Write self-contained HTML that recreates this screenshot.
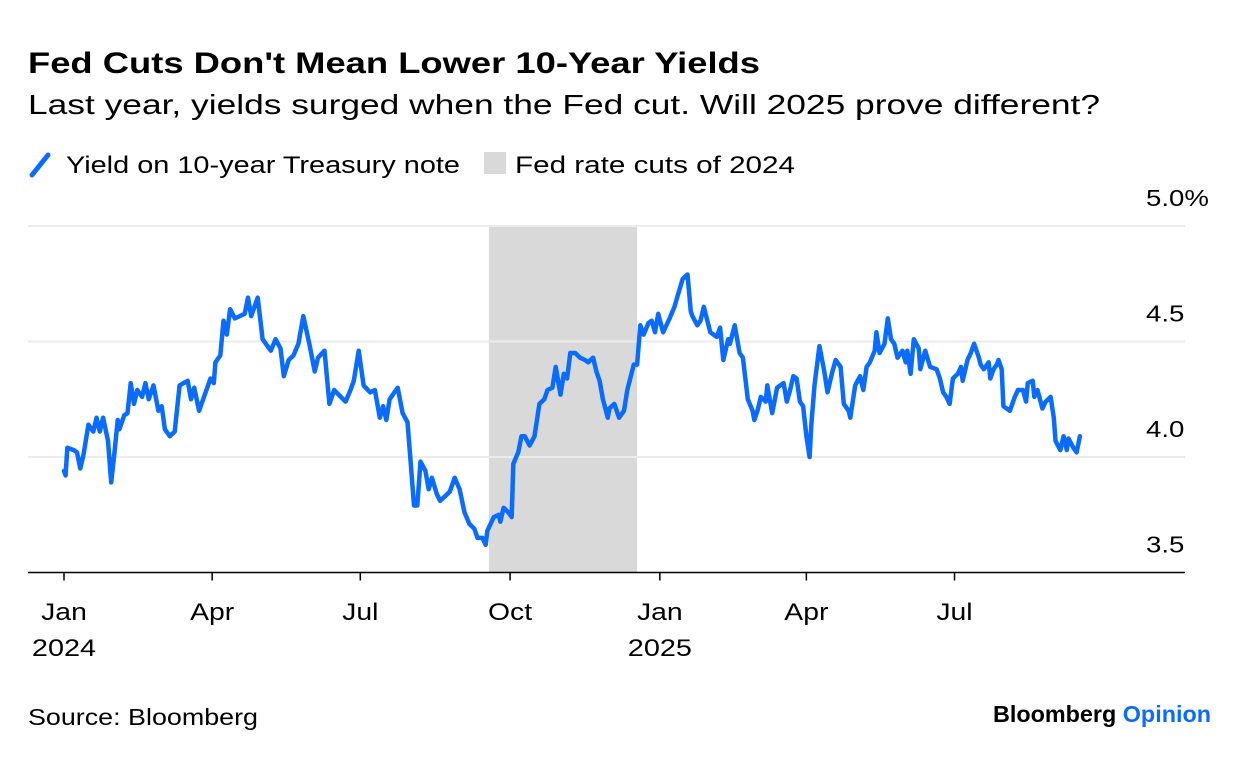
<!DOCTYPE html>
<html><head><meta charset="utf-8"><style>
body{margin:0;background:#fff;font-family:"Liberation Sans",sans-serif;color:#000}
svg{display:block}
</style></head><body>
<svg width="1240" height="758" viewBox="0 0 1240 758" xmlns="http://www.w3.org/2000/svg">
<text x="28" y="73" font-size="30" font-weight="bold" textLength="732" lengthAdjust="spacingAndGlyphs">Fed Cuts Don't Mean Lower 10-Year Yields</text>
<text x="28" y="114" font-size="28" textLength="1072" lengthAdjust="spacingAndGlyphs">Last year, yields surged when the Fed cut. Will 2025 prove different?</text>
<g>
<line x1="32" y1="175" x2="48" y2="155" stroke="#0a6cff" stroke-width="5" stroke-linecap="round"/>
<text x="66" y="173" font-size="24" textLength="394" lengthAdjust="spacingAndGlyphs">Yield on 10-year Treasury note</text>
<rect x="484" y="152" width="22" height="22" fill="#d9d9d9"/>
<text x="515" y="173" font-size="24" textLength="280" lengthAdjust="spacingAndGlyphs">Fed rate cuts of 2024</text>
</g>
<g id="plot"></g>
<text x="28" y="725" font-size="23" textLength="230" lengthAdjust="spacingAndGlyphs">Source: Bloomberg</text>
<text x="993" y="722" font-size="23" font-weight="bold" textLength="218" lengthAdjust="spacingAndGlyphs">Bloomberg <tspan fill="#0a6cff">Opinion</tspan></text>
</svg>
<script>
const days=[0,1,2,6,8,10,12,15,18,20,22,24,27,29,31,33,34,37,39,41,43,45,48,50,52,55,58,60,62,65,68,71,76,78,80,83,86,90,92,93,96,98,100,102,105,108,111,113,115,119,122,125,127,130,133,135,138,141,144,147,151,154,156,160,163,166,170,173,176,178,181,184,188,191,194,196,198,200,205,208,211,213,215,217,219,222,224,226,229,231,234,237,240,243,246,249,252,254,257,259,260,264,267,268,270,273,275,276,279,281,283,286,289,292,295,297,300,302,305,307,309,311,314,317,320,322,325,327,329,331,334,335,338,341,344,346,350,352,354,356,359,361,363,365,368,370,372,375,377,380,383,385,386,389,391,393,397,401,403,405,408,409,412,415,417,420,423,424,426,428,431,432,435,438,442,444,446,448,450,452,454,456,458,459,461,464,467,469,472,474,477,479,482,483,486,489,491,493,495,498,499,501,504,506,508,510,512,515,517,518,520,522,525,526,529,532,536,538,540,542,544,546,549,551,552,555,557,559,562,563,565,568,569,571,573,574,576,577,581,584,586,589,591,592,595,596,598,601,603,606,608,609,612,614,616,617,620,622,624];
const yields=[3.94,3.92,4.04,4.03,4.02,3.95,4.01,4.14,4.11,4.17,4.11,4.17,4.07,3.89,4.02,4.16,4.12,4.18,4.19,4.32,4.23,4.29,4.26,4.32,4.25,4.31,4.20,4.22,4.12,4.09,4.11,4.31,4.33,4.25,4.30,4.20,4.26,4.34,4.32,4.41,4.44,4.59,4.53,4.64,4.60,4.61,4.62,4.69,4.61,4.69,4.51,4.48,4.46,4.51,4.47,4.35,4.42,4.44,4.49,4.61,4.48,4.37,4.43,4.46,4.23,4.29,4.26,4.24,4.29,4.33,4.46,4.31,4.28,4.29,4.17,4.22,4.16,4.25,4.30,4.19,4.15,3.97,3.79,3.79,3.98,3.94,3.86,3.91,3.84,3.81,3.83,3.85,3.91,3.86,3.76,3.71,3.69,3.65,3.65,3.62,3.68,3.74,3.75,3.72,3.78,3.76,3.74,3.97,4.02,4.09,4.09,4.05,4.09,4.23,4.25,4.29,4.30,4.39,4.27,4.36,4.34,4.45,4.45,4.43,4.42,4.41,4.43,4.37,4.33,4.25,4.17,4.21,4.23,4.17,4.20,4.29,4.40,4.40,4.57,4.53,4.58,4.59,4.54,4.62,4.54,4.57,4.60,4.65,4.70,4.77,4.79,4.63,4.61,4.57,4.59,4.65,4.54,4.52,4.56,4.42,4.51,4.49,4.57,4.45,4.43,4.25,4.20,4.16,4.20,4.26,4.24,4.31,4.19,4.30,4.32,4.24,4.29,4.35,4.34,4.24,4.22,4.09,4.00,4.14,4.31,4.48,4.37,4.28,4.37,4.42,4.39,4.23,4.20,4.17,4.31,4.35,4.29,4.39,4.41,4.46,4.54,4.45,4.49,4.60,4.51,4.49,4.43,4.46,4.41,4.46,4.36,4.51,4.47,4.38,4.46,4.39,4.38,4.34,4.28,4.26,4.23,4.34,4.36,4.39,4.33,4.42,4.45,4.49,4.43,4.40,4.38,4.41,4.34,4.38,4.40,4.42,4.38,4.22,4.20,4.26,4.29,4.29,4.24,4.32,4.33,4.26,4.29,4.21,4.24,4.26,4.17,4.07,4.03,4.09,4.03,4.08,4.04,4.02,4.09];
const yTicks=[3.5,4.0,4.5,5.0];
const yTickLabels=["3.5","4.0","4.5","5.0%"];
const monthDays=[0,91,182,274,366,456,547];
const monthLabels=["Jan","Apr","Jul","Oct","Jan","Apr","Jul"];
const yearLabels=["2024","","","","2025","",""];
const cutStart=261, cutEnd=352;

const NS="http://www.w3.org/2000/svg";
const g=document.getElementById('plot');
const xs=d=>64+d*1.628;
const ys=v=>226+(5-v)*231;
function mk(tag,attrs,parent){const e=document.createElementNS(NS,tag);for(const k in attrs)e.setAttribute(k,attrs[k]);(parent||g).appendChild(e);return e;}
function widen(t,f){const w=t.getComputedTextLength();t.setAttribute('textLength',(w*f).toFixed(1));t.setAttribute('lengthAdjust','spacingAndGlyphs');}

const band=mk('rect',{x:xs(cutStart),y:ys(5),width:xs(cutEnd)-xs(cutStart),height:ys(3.5)-ys(5)+0.5,fill:'#d9d9d9'});



yTicks.forEach((v,i)=>{
  if(v>3.5){
    const l=mk('line',{x1:28,x2:1185,y1:ys(v),y2:ys(v),stroke:'#ebebeb','stroke-width':2});
    
    
  }
  const t=mk('text',{x:1146,y:ys(v)-20,'font-size':23});
  t.textContent=yTickLabels[i];
  
  
  widen(t,1.2);
});

const base=mk('line',{x1:28,x2:1185,y1:ys(3.5),y2:ys(3.5),stroke:'#000','stroke-width':1.5});



monthDays.forEach((d,i)=>{
  const tk=mk('line',{x1:xs(d),x2:xs(d),y1:ys(3.5),y2:ys(3.5)+8,stroke:'#000','stroke-width':1.5});
  
  
  const t=mk('text',{x:xs(d),y:620,'font-size':24,'text-anchor':'middle'});
  t.textContent=monthLabels[i];
  
  
  widen(t,1.18);
  if(yearLabels[i]){
    const y=mk('text',{x:xs(d),y:656,'font-size':24,'text-anchor':'middle'});
    y.textContent=yearLabels[i];
    
    
    widen(y,1.2);
  }
});

const pts=days.map((d,i)=>xs(d).toFixed(1)+','+ys(yields[i]).toFixed(1)).join(' ');
const line=mk('polyline',{points:pts,fill:'none',stroke:'#0a6cff','stroke-width':4.5,'stroke-linejoin':'round','stroke-linecap':'round'});


</script>
</body></html>
